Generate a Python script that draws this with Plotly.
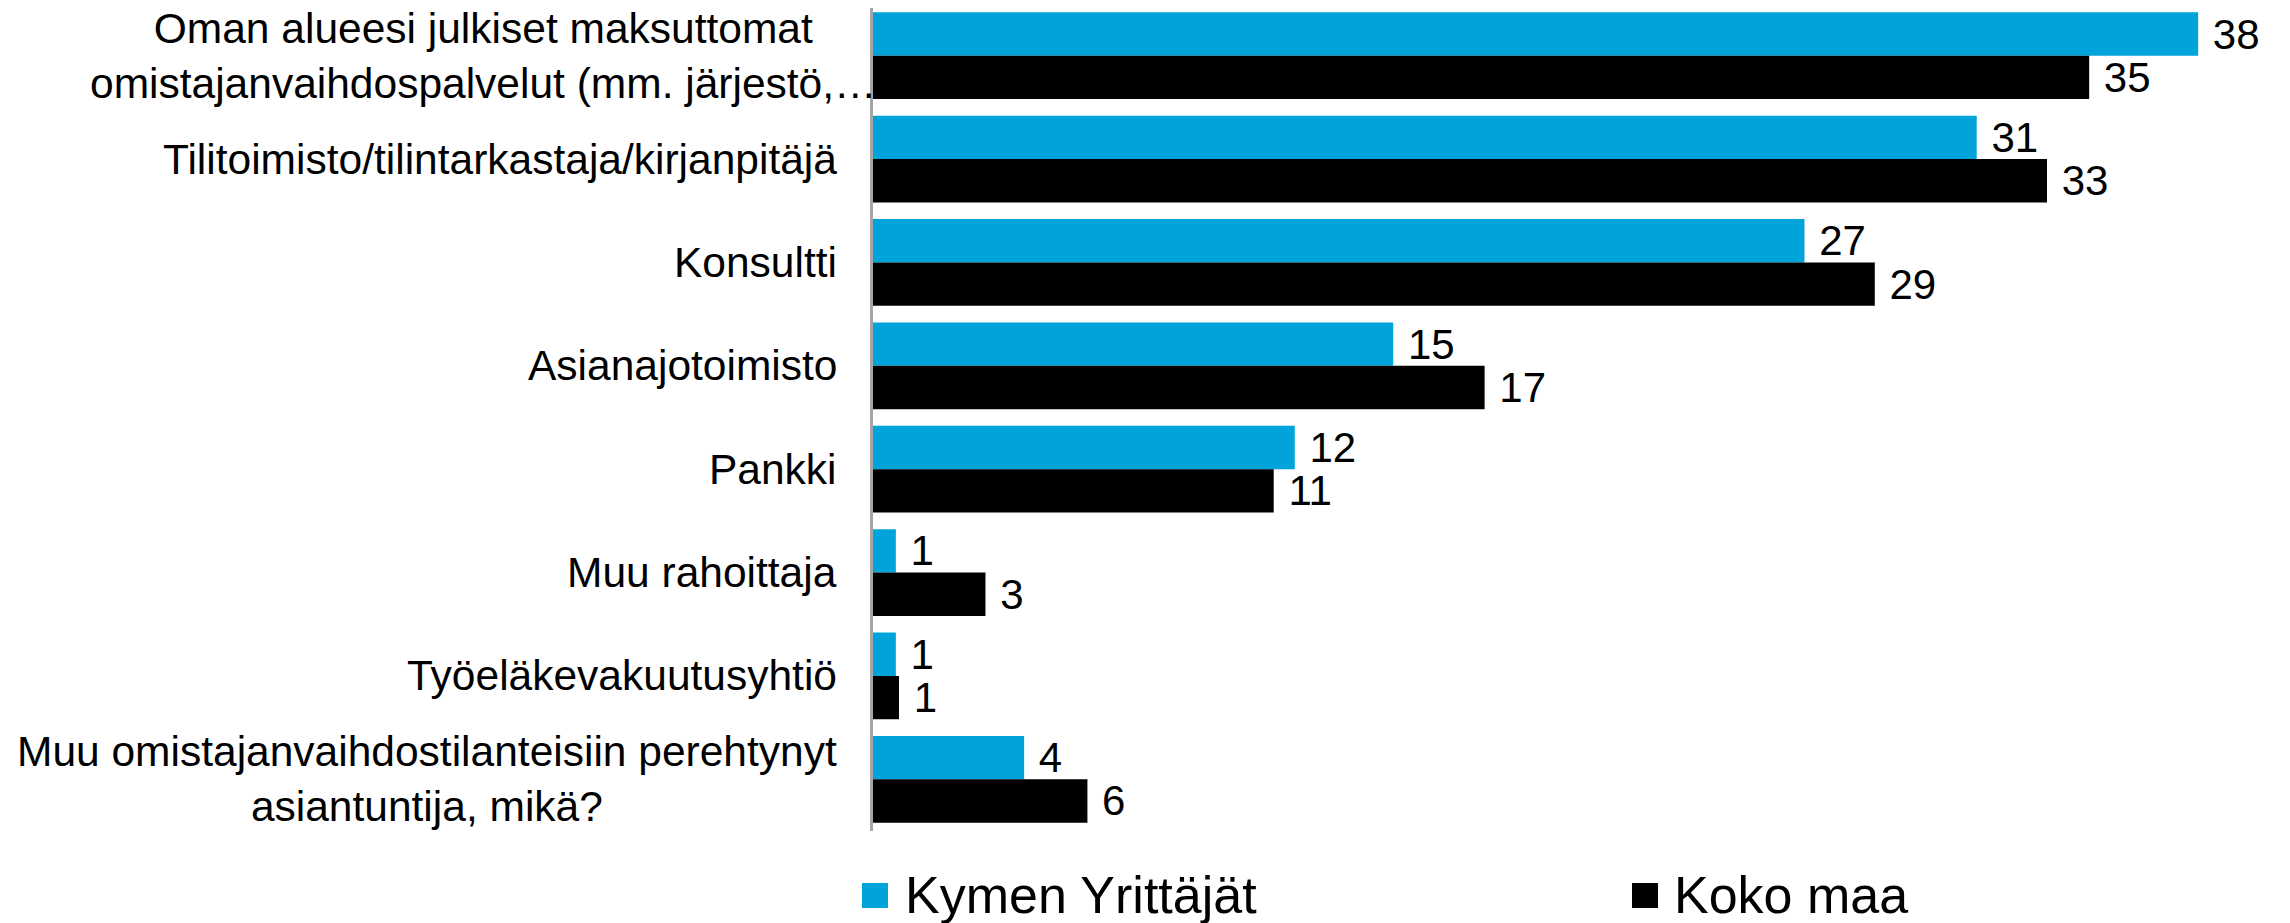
import plotly.graph_objects as go

categories = [
    "Oman alueesi julkiset maksuttomat<br>omistajanvaihdospalvelut (mm. järjestö,…",
    "Tilitoimisto/tilintarkastaja/kirjanpitäjä",
    "Konsultti",
    "Asianajotoimisto",
    "Pankki",
    "Muu rahoittaja",
    "Työeläkevakuutusyhtiö",
    "Muu omistajanvaihdostilanteisiin perehtynyt<br>asiantuntija, mikä?",
]
series_names = ["Kymen Yrittäjät", "Koko maa"]
kymen = [37.7, 31.4, 26.5, 14.8, 12.0, 0.65, 0.65, 4.3]
koko = [34.6, 33.4, 28.5, 17.4, 11.4, 3.2, 0.74, 6.1]
colors = ["#00A4DA", "#000000"]

# page has an 8px body margin: work in page coords and subtract it
OFF = 8
W, H = 2290 - OFF, 923 - OFF
L = 873 - OFF
R = W - (2279 - OFF)
T = 0
B = H - (831 - OFF)
PW = W - L - R
PH = H - T - B
FONT = "Liberation Sans, Arial, sans-serif"

# category pitch in page pixels is ~103.4; plot top on page is at y=8
pitch = 827 / 8.0
y_top = (OFF - 4) / pitch - 0.5
y_bot = y_top + PH / pitch

fig = go.Figure()
for name, vals, col in zip(series_names, [kymen, koko], colors):
    fig.add_trace(go.Bar(
        y=categories, x=vals, name=name, orientation="h",
        marker=dict(color=col, line=dict(width=0)),
        texttemplate="\u00a0%{x:.0f}", textposition="outside",
        textfont=dict(size=42, color="#000000", family=FONT),
        constraintext="none", cliponaxis=False, showlegend=False,
    ))


def px(x):
    return (x - OFF - L) / PW


def py(y):
    return (H - B - (y - OFF)) / PH


annotations = []
for i, c in enumerate(categories):
    right = 878 if i == 0 else 838
    annotations.append(dict(
        xref="paper", yref="y", x=px(right), y=c, text=c,
        xanchor="right", yanchor="middle", align="center", showarrow=False,
        borderpad=0,
        font=dict(size=42.5, color="#000000", family=FONT),
    ))

shapes = []
legend_items = [(862, 903), (1632, 1672)]
for (sx, tx), name, col in zip(legend_items, series_names, colors):
    shapes.append(dict(type="rect", xref="paper", yref="paper",
                       x0=px(sx), x1=px(sx + 26), y0=py(908), y1=py(883),
                       fillcolor=col, line=dict(width=0)))
    annotations.append(dict(xref="paper", yref="paper", x=px(tx), y=py(895),
                            text=name, xanchor="left", yanchor="middle",
                            showarrow=False,
                            font=dict(size=52, color="#000000", family=FONT)))

fig.update_layout(
    width=W, height=H,
    margin=dict(l=L, r=R, t=T, b=B, pad=0),
    paper_bgcolor="white", plot_bgcolor="white",
    barmode="group", bargap=0.162, bargroupgap=0,
    font=dict(family=FONT, size=42, color="#000000"),
    xaxis=dict(range=[0, 40], visible=False, showgrid=False, zeroline=False),
    yaxis=dict(range=[y_bot, y_top], showticklabels=False, showgrid=False,
               zeroline=False, showline=True, linecolor="#A6A6A6", linewidth=2.5,
               ticks=""),
    annotations=annotations, shapes=shapes, showlegend=False,
)

fig.write_html("out.html")
